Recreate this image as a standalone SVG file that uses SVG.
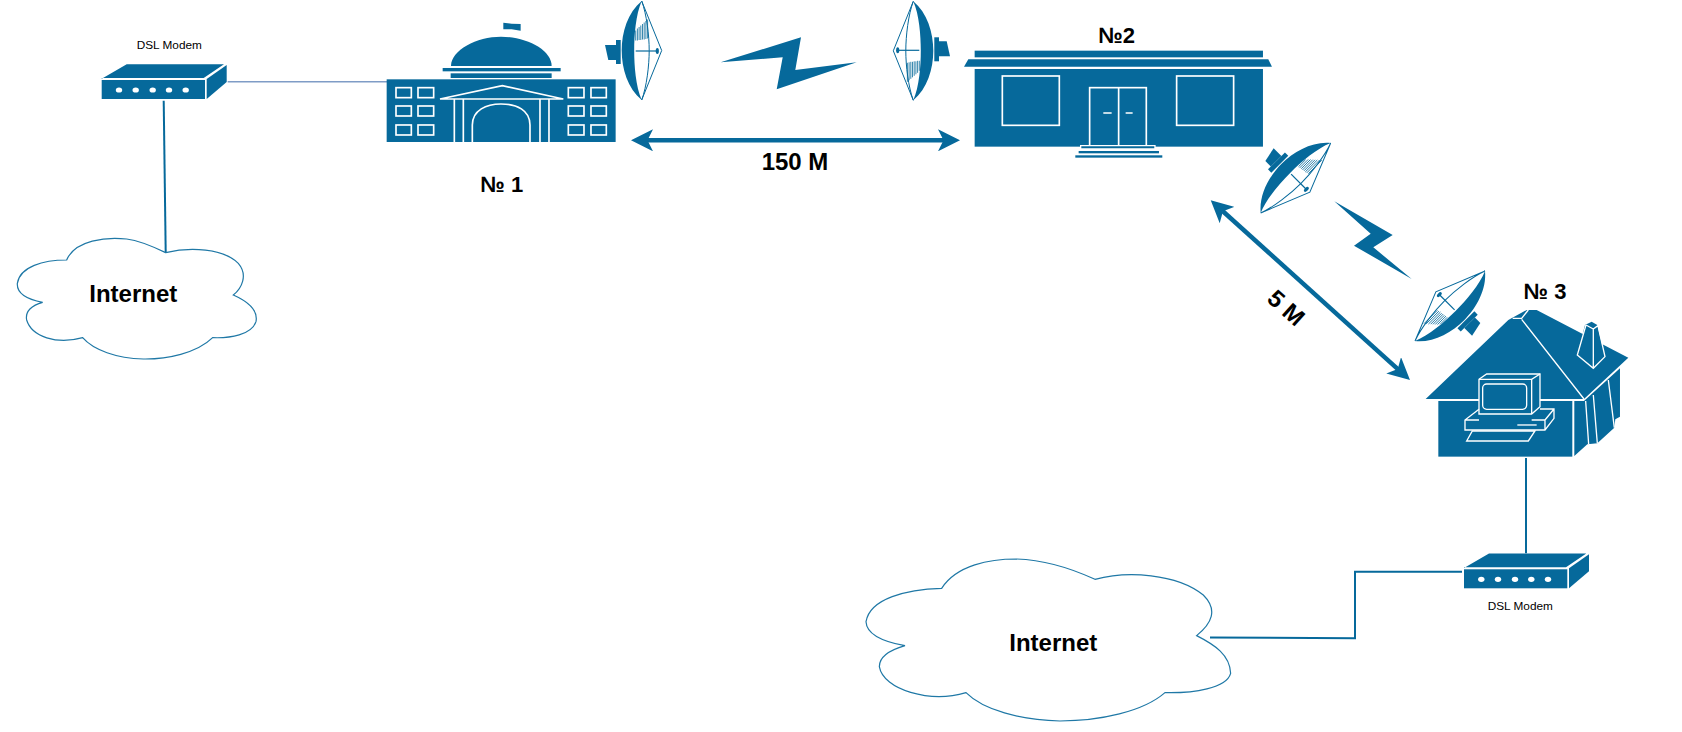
<svg xmlns="http://www.w3.org/2000/svg" width="1682" height="732" viewBox="0 0 1682 732">
  <style>
    .fill { fill: #06699b; }
    .cut { fill: none; stroke: #fff; stroke-width: 5; stroke-linejoin: miter; }
    .cutface { fill: #06699b; stroke: #fff; stroke-width: 5; }
    .wire { fill: none; stroke: #06699b; stroke-width: 2; }
    .wire-light { fill: none; stroke: #7f9cc6; stroke-width: 1.5; }
    .span { fill: none; stroke: #06699b; stroke-width: 4.5; marker-start: url(#head); marker-end: url(#head); }
    .cloud { fill: #fff; stroke: #1f78a6; stroke-width: 3.6; }
    .label { font-family: "Liberation Sans", Arial, sans-serif; font-weight: 700; font-size: 24px; fill: #000; text-anchor: middle; }
    .num { font-size: 22px; }
    .small { font-family: "Liberation Sans", Arial, sans-serif; font-size: 11.8px; fill: #000; text-anchor: middle; }
  </style>
  <defs>
    <marker id="head" markerUnits="userSpaceOnUse" viewBox="0 0 22 22" markerWidth="22" markerHeight="22" refX="6" refY="11" orient="auto-start-reverse">
      <path d="M22 11 L0 0 L5.5 11 L0 22 Z" fill="#06699b"/>
    </marker>
    <!-- Parabolic dish: feed on -x, focus tip on +x, horn hatching toward -y -->
    <g id="dish">
      <path class="fill" d="M-36.7 -5.5 H-25.7 V9.5 H-33.4 Z"/>
      <rect class="fill" x="-25.7" y="-10.5" width="4.7" height="24"/>
      <path class="fill" d="M0 -49.5 C-14 -38 -20 -18 -20 0 C-20 18 -14 38 0 49.5 C-6 36 -7.5 15 -7.5 0 C-7.5 -15 -6 -36 0 -49.5 Z"/>
      <path d="M0 -49.5 L20 0 L0 49.5 C5 36 7.5 15 7.5 0 C7.5 -15 5 -36 0 -49.5 Z" fill="#fff" stroke="#06699b" stroke-width="1"/>
      <path d="M-6 -20 V-10 M-4.3 -22 V-10 M-2.6 -23.5 V-10.5 M-0.9 -25 V-10.5 M0.8 -26.5 V-11 M2.5 -28 V-11 M4.2 -29.5 V-11.5 M5.9 -31 V-12" fill="none" stroke="#06699b" stroke-width="0.8"/>
      <path d="M-6 0.5 H15" fill="none" stroke="#06699b" stroke-width="1.2"/>
      <ellipse class="fill" cx="15.6" cy="0.5" rx="1.6" ry="3"/>
    </g>
    <!-- Small DSL box, origin at the front panel's top-left corner -->
    <g id="modem">
      <rect class="fill" x="0" y="0" width="103.3" height="19"/>
      <path class="fill" d="M0 -1.2 L25 -15.7 H122.3 L102 -2 H0 Z"/>
      <path class="fill" d="M105 -1 L125 -15 V2 L105 19 Z"/>
      <g fill="#fff">
        <ellipse cx="17.3" cy="10" rx="3.2" ry="2.6"/>
        <ellipse cx="34" cy="10" rx="3.2" ry="2.6"/>
        <ellipse cx="51" cy="10" rx="3.2" ry="2.6"/>
        <ellipse cx="67.3" cy="10" rx="3.2" ry="2.6"/>
        <ellipse cx="84" cy="10" rx="3.2" ry="2.6"/>
      </g>
    </g>
  </defs>

  <g id="connectors">
    <path class="wire-light" d="M227.7 81.7 H387"/>
    <path class="wire" d="M163.7 100.7 L165.7 252.7"/>
    <path class="wire" d="M1526 458 V553.3"/>
    <path class="wire" d="M1210 637.5 L1355 638.3 V571.7 H1462"/>
    <path class="span" d="M647 140.3 H944"/>
    <path class="span" d="M1222.6 211 L1398.1 369.3"/>
  </g>

  <g id="cloud-1">
    <g transform="translate(0,220) scale(0.3333)">
      <path class="cloud" d="M200 120 C225 60 320 50 380 57 C420 62 460 80 497 98 C570 80 670 85 715 130 C745 165 725 205 700 225 C745 245 775 270 768 305 C755 345 690 355 638 353 C590 400 500 418 430 417 C350 415 280 390 248 353 C170 375 95 350 80 300 C75 275 95 255 128 247 C80 238 50 220 52 190 C60 140 130 120 200 120 Z"/>
    </g>
    <text class="label" x="133.3" y="301.7">Internet</text>
  </g>

  <g id="cloud-2">
    <g transform="translate(850,540) scale(0.3333)">
      <path class="cloud" d="M275 145 C320 75 420 57 500 57 C590 60 670 88 735 118 C830 92 980 100 1060 165 C1105 210 1085 250 1040 287 C1095 315 1140 345 1142 400 C1130 445 1030 460 945 458 C880 515 750 543 630 543 C510 540 400 510 348 458 C240 490 100 450 88 380 C88 350 120 330 165 317 C100 305 50 285 48 245 C60 175 170 148 275 145 Z"/>
    </g>
    <text class="label" x="1053.3" y="650.7">Internet</text>
  </g>

  <g id="modem-1">
    <use href="#modem" x="101.7" y="80"/>
    <text class="small" x="169.3" y="49.3">DSL Modem</text>
  </g>

  <g id="modem-2">
    <use href="#modem" x="1464" y="569.3"/>
    <text class="small" x="1520.3" y="610">DSL Modem</text>
  </g>

  <g id="site-1">
    <g transform="translate(370,0) scale(0.3333)">
      <path class="fill" d="M400 68 L425 71 L452 72 V92 L425 88 L400 88 Z"/>
      <path class="fill" d="M243 198 C243 150 320 110 393 110 C470 110 545 150 545 198 Z"/>
      <rect class="fill" x="218" y="204" width="354" height="10"/>
      <rect class="fill" x="242" y="220" width="303" height="14"/>
      <rect class="fill" x="50" y="238" width="687" height="188"/>
      <g class="cut">
        <rect x="78" y="263" width="46" height="30"/>
        <rect x="144" y="263" width="47" height="30"/>
        <rect x="78" y="318" width="46" height="30"/>
        <rect x="144" y="318" width="47" height="30"/>
        <rect x="78" y="375" width="46" height="30"/>
        <rect x="144" y="375" width="47" height="30"/>
        <rect x="595" y="263" width="47" height="30"/>
        <rect x="663" y="263" width="46" height="30"/>
        <rect x="595" y="318" width="47" height="30"/>
        <rect x="663" y="318" width="46" height="30"/>
        <rect x="595" y="375" width="47" height="30"/>
        <rect x="663" y="375" width="46" height="30"/>
        <path d="M210 297 L397 257 L580 297 Z"/>
        <path d="M253 297 V426 M280 297 V426 M510 297 V426 M537 297 V426"/>
        <path d="M307 426 V375 C307 330 350 312 393 312 C440 312 480 330 480 375 V426"/>
      </g>
    </g>
    <text class="label num" x="501.7" y="191.7">№ 1</text>
  </g>

  <g id="site-2">
    <g transform="translate(860,0) scale(0.3333)">
      <rect class="fill" x="344" y="152" width="865" height="20"/>
      <path class="fill" d="M325 178 H1225 L1236 200 H312 Z"/>
      <rect class="fill" x="344" y="207" width="865" height="233"/>
      <g class="cut">
        <rect x="427" y="228" width="171" height="148"/>
        <rect x="950" y="228" width="171" height="148"/>
        <rect x="689" y="263" width="170" height="175"/>
        <path d="M776 263 V438 M730 339 H755 M797 339 H818"/>
      </g>
      <path class="cutface" style="stroke-width:4" d="M662 437 H885 V447 H662 Z"/>
      <rect class="fill" x="656" y="453" width="241" height="7"/>
      <rect class="fill" x="646" y="466" width="261" height="7"/>
    </g>
    <text class="label num" x="1116.7" y="43.3">№2</text>
  </g>

  <g id="site-3">
    <g transform="translate(1380,260) scale(0.3333)">
      <path class="fill" d="M137 417 L385 180 L400 172 L440 150 H470 L745 293 L612 417 Z"/>
      <rect class="fill" x="175" y="423" width="402" height="167"/>
      <path class="fill" d="M583 423 H612 L720 325 V470 L706 478 L703 503 L652 550 L622 553 L583 588 Z"/>
      <path class="fill" d="M615 195 L635 185 L652 195 L675 290 L640 325 L592 285 Z"/>
      <g class="cut" style="stroke-width:4">
        <path d="M425 178 L612 417 M398 175 H425 L445 150"/>
        <path d="M617 423 L626 553 M640 405 L652 550 M685 360 L703 503"/>
        <path d="M618 195 L592 285 L640 325 L675 290 L654 197 M618 195 L640 207 L654 197 M640 207 V325"/>
        <path class="cutface" style="stroke-width:4" d="M297 358 L320 342 H480 V440 L455 462 H297 Z"/>
        <path d="M297 358 H455 L480 342 M455 358 V462"/>
        <rect x="308" y="372" width="132" height="76" rx="12"/>
        <path d="M297 448 L255 480 V510 H495 L522 475 V447 L480 447 M255 480 H297 M455 480 H495 V510 M495 480 L522 447"/>
        <path d="M412 495 H470"/>
        <path d="M277 513 H465 L445 543 H260 Z"/>
      </g>
    </g>
    <text class="label num" x="1545" y="299.3">№ 3</text>
  </g>

  <g id="link-1-2">
    <use href="#dish" transform="translate(641.7,50.5)"/>
    <use href="#dish" transform="translate(913.3,50.8) rotate(180)"/>
    <path class="fill" d="M720.7 62.3 L801 37.3 L795.3 70 L856.7 62.3 L776.7 89.3 L782.7 57.3 Z"/>
    <text class="label" x="795" y="169.5">150 M</text>
  </g>

  <g id="link-2-3">
    <use href="#dish" transform="translate(1295.7,178) rotate(45)"/>
    <use href="#dish" transform="translate(1450,306) rotate(225)"/>
    <path class="fill" d="M1334.3 201.3 L1392.7 235 L1373.3 247.3 L1411.7 279 L1354 245.7 L1370.7 233.7 Z"/>
    <text class="label" transform="translate(1286,308) rotate(42)" y="8">5 M</text>
  </g>
</svg>
